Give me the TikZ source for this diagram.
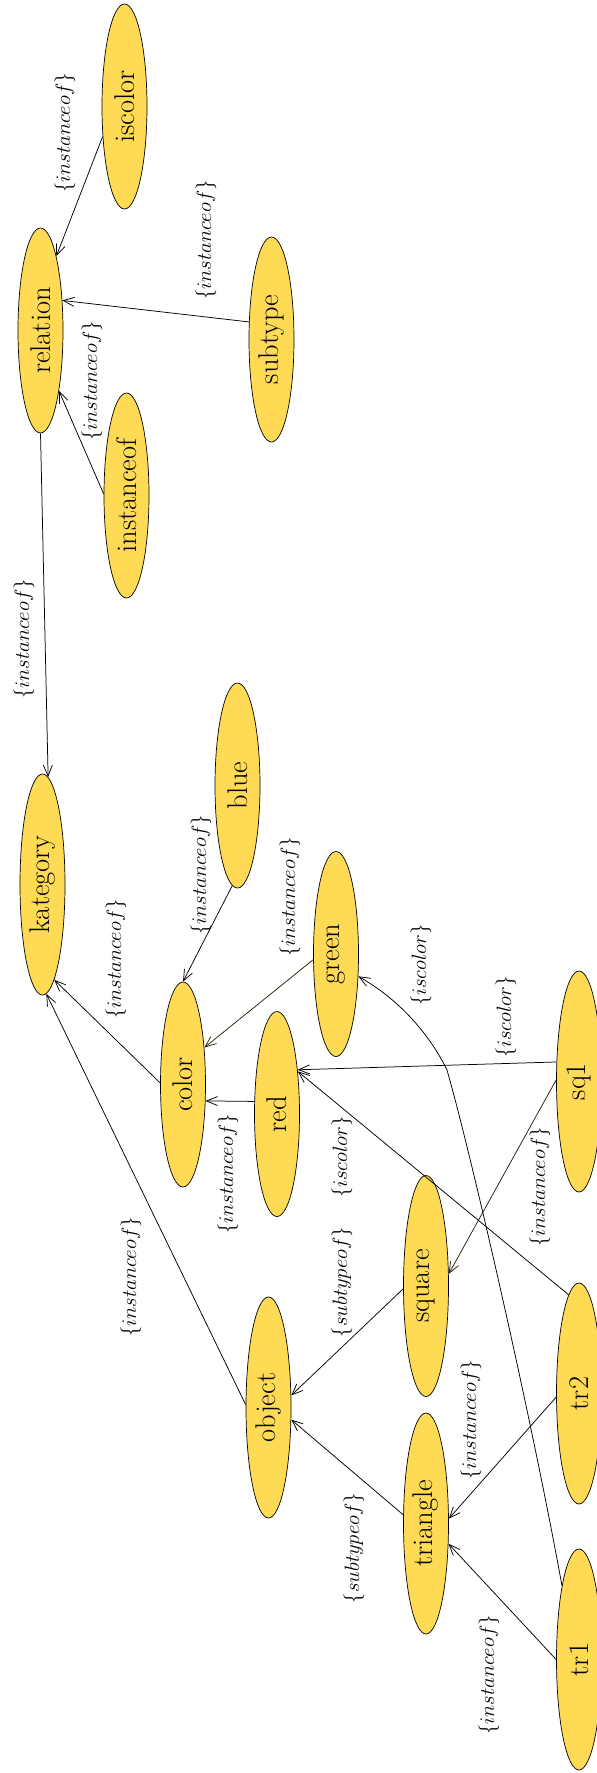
\documentclass[tikz,border=0pt]{standalone}
\usetikzlibrary{shapes.geometric,arrows.meta}
\definecolor{nodefill}{HTML}{FFDA55}
\definecolor{darkedge}{HTML}{2A2005}
\begin{document}
\begin{tikzpicture}[x=1pt,y=-1pt,
  nd/.style={ellipse, draw=black, fill=nodefill, line width=0.7pt, minimum width=45pt, inner sep=0pt, font=\fontsize{28.5}{30}\selectfont},
  shortnd/.style={nd, minimum height=205pt},
  tallnd/.style={nd, minimum height=221pt},
  edge/.style={line width=0.75pt, -{Straight Barb[length=11pt,width=9pt]}},
  lbl/.style={rotate=90, inner sep=0pt, font=\fontsize{20}{22}\selectfont}]
\useasboundingbox (0,0) rectangle (597,1773);
% nodes
\node[shortnd] (iscolor) at (124.5,106.5) {\rotatebox{90}{iscolor}};
\node[shortnd] (relation) at (40.5,330.5) {\rotatebox{90}{relation}};
\node[shortnd] (subtype) at (271.5,339.5) {\rotatebox{90}{subtype}};
\node[shortnd] (instanceof) at (126.5,495.5) {\rotatebox{90}{instanceof}};
\node[tallnd] (kategory) at (42.5,884.5) {\rotatebox{90}{kategory}};
\node[shortnd] (blue) at (237.5,785.5) {\rotatebox{90}{blue}};
\node[shortnd] (green) at (336,954) {\rotatebox{90}{green}};
\node[shortnd] (color) at (183,1084.5) {\rotatebox{90}{color}};
\node[shortnd] (red) at (277,1114) {\rotatebox{90}{red}};
\node[tallnd] (object) at (268.5,1407.5) {\rotatebox{90}{object}};
\node[tallnd] (square) at (426,1286) {\rotatebox{90}{square}};
\node[tallnd] (triangle) at (426,1523.5) {\rotatebox{90}{triangle}};
\node[tallnd] (sq1) at (579,1081.5) {\rotatebox{90}{sq1}};
\node[tallnd] (tr2) at (579,1393.5) {\rotatebox{90}{tr2}};
\node[tallnd] (tr1) at (579,1659.5) {\rotatebox{90}{tr1}};
% edges
\draw[edge] (iscolor.234.8) -- (relation.78);
\draw[edge] (subtype.142.5) -- (relation.54);
\draw[edge] (instanceof.176.3) -- (relation.287);
\draw[edge] (relation.270) -- (kategory.87.6);
\draw[edge] (color.176.3) -- (kategory.277);
\draw[edge] (object.173.9) -- (kategory.272.7);
\draw[edge] (blue.267.5) -- (color.90);
\draw[edge, draw=darkedge] (green.194.6) -- (color.60);
\draw[edge] (red.151.4) -- (color.324);
\draw[edge] (sq1.139.2) -- (red.65.5);
\draw[edge, draw=darkedge] (sq1.176) -- (square.28.4);
\draw[edge] (tr2.96) -- (red.64.5);
\coordinate (bend) at (447,1070);
\draw[line width=0.75pt] (tr1.103) .. controls (530,1410) and (470,1150) .. (bend);
\draw[edge] (bend) .. controls (430,1035) and (400,1000) .. (green.315);
\draw[edge] (square.187.4) -- (object.28);
\draw[edge] (triangle.159.7) -- (object.332);
\draw[edge] (tr2.189) -- (triangle.12.9);
\draw[edge] (tr1.180) -- (triangle.318);
% labels
\node[lbl] (l1) at (65,133) {$\{instanceof\}$};
\node[lbl] (l2) at (206,240) {$\{instanceof\}$};
\node[lbl] (l3) at (92,381) {$\{instanceof\}$};
\node[lbl] (l4) at (24,639) {$\{instanceof\}$};
\node[lbl] (l5) at (116,959) {$\{instanceof\}$};
\node[lbl] (l6) at (201,875) {$\{instanceof\}$};
\node[lbl] (l7) at (290,897) {$\{instanceof\}$};
\node[lbl] (l8) at (421,965) {$\{iscolor\}$};
\node[lbl] (l9) at (506,1017) {$\{iscolor\}$};
\node[lbl] (l10) at (540,1187) {$\{instanceof\}$};
\node[lbl] (l11) at (228,1174) {$\{instanceof\}$};
\node[lbl] (l12) at (342,1157) {$\{iscolor\}$};
\node[lbl] (l13) at (342,1282) {$\{subtypeof\}$};
\node[lbl] (l14) at (131,1277) {$\{instanceof\}$};
\node[lbl] (l15) at (354,1548) {$\{subtypeof\}$};
\node[lbl] (l16) at (471,1420) {$\{instanceof\}$};
\node[lbl] (l17) at (489,1675) {$\{instanceof\}$};
\end{tikzpicture}
\end{document}
